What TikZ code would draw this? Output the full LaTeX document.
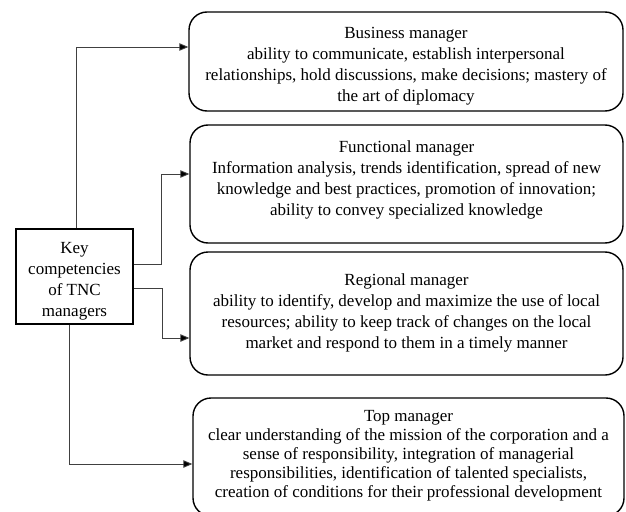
\documentclass[tikz,border=0pt]{standalone}
\usepackage{fontspec}
\setmainfont{Liberation Serif}
\usetikzlibrary{arrows.meta}
\begin{document}
\begin{tikzpicture}[x=1pt,y=-1pt,
  rolebox/.style={draw, line width=1.4pt, rounded corners=18pt, inner sep=0pt},
  keybox/.style={draw, line width=1.4pt, inner sep=0pt},
  boxtext/.style={align=center, inner sep=0pt, font=\fontsize{17}{21}\selectfont},
  conn/.style={draw=black!75, line width=0.9pt, -{Triangle[length=9pt,width=7.5pt,fill=black]}}]
\clip (0,0) rectangle (626,511);
\fill[white] (0,0) rectangle (626,511);

% competency boxes
\node[rolebox, minimum width=434pt, minimum height=99pt] (bus) at (406,61.5) {};
\node[rolebox, minimum width=433pt, minimum height=118pt] (fun) at (406.5,184) {};
\node[rolebox, minimum width=433pt, minimum height=123pt] (reg) at (406.5,313.5) {};
\node[rolebox, minimum width=431pt, minimum height=118pt] (top) at (408.5,457) {};

% their texts
\node[boxtext] (bus-text) at (406,66)
  {Business manager\\ability to communicate, establish interpersonal\\relationships, hold discussions, make decisions; mastery of\\the art of diplomacy};
\node[boxtext] (fun-text) at (406.5,179.5)
  {Functional manager\\Information analysis, trends identification, spread of new\\knowledge and best practices, promotion of innovation;\\ability to convey specialized knowledge};
\node[boxtext] (reg-text) at (406.5,312.5)
  {Regional manager\\ability to identify, develop and maximize the use of local\\resources; ability to keep track of changes on the local\\market and respond to them in a timely manner};
\node[boxtext, font=\fontsize{17}{19}\selectfont] (top-text) at (408.5,456)
  {Top manager\\clear understanding of the mission of the corporation and a\\sense of responsibility, integration of managerial\\responsibilities, identification of talented specialists,\\creation of conditions for their professional development};

% central box
\node[keybox, minimum width=117pt, minimum height=95pt] (key) at (74.5,276.5) {};
\node[boxtext] (key-text) at (74.5,281) {Key\\competencies\\of TNC\\managers};

% routing points
\coordinate (b1) at (76,47);
\coordinate (f1) at (161,264);
\coordinate (f2) at (161,174);
\coordinate (r1) at (162,288);
\coordinate (r2) at (162,338);
\coordinate (t1) at (69,464);

% connectors
\draw[conn] (key.north -| b1) -- (b1) -- (bus.west |- b1);
\draw[conn] (key.east |- f1) -- (f1) -- (f2) -- (fun.west |- f2);
\draw[conn] (key.east |- r1) -- (r1) -- (r2) -- (reg.west |- r2);
\draw[conn] (key.south -| t1) -- (t1) -- (top.west |- t1);
\end{tikzpicture}
\end{document}
